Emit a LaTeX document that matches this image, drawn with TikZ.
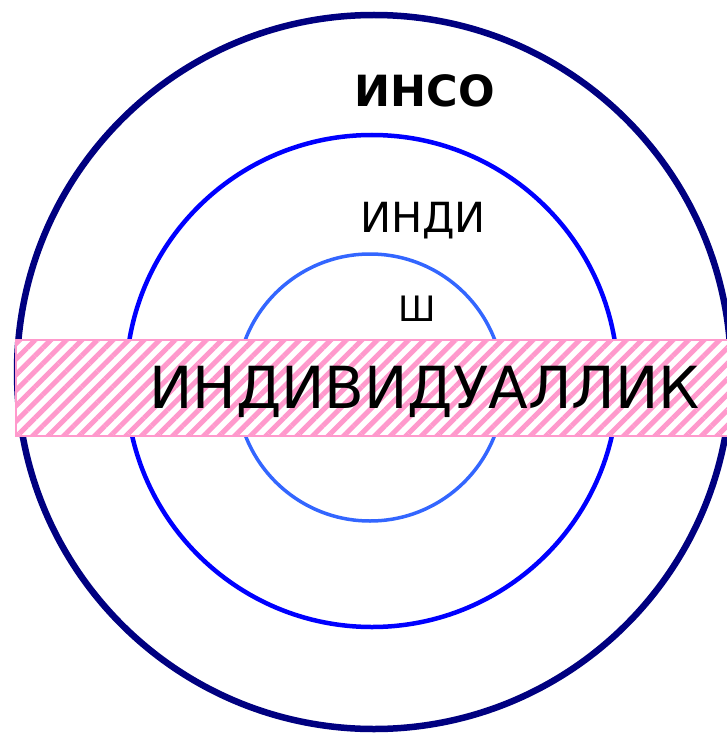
\documentclass[tikz,border=0pt]{standalone}
\usepackage{fontspec}
\setmainfont{DejaVu Sans}
\usetikzlibrary{patterns.meta}
\definecolor{navyc}{RGB}{0,0,128}
\definecolor{bluec}{RGB}{0,0,255}
\definecolor{lightbluec}{RGB}{51,102,255}
\definecolor{pinkc}{RGB}{255,153,204}
\tikzset{
  ring/.style={draw, fill=none},
  lbl/.style={anchor=base, inner sep=0pt, text=black},
}
\begin{document}
\begin{tikzpicture}[x=1pt,y=-1pt]
\useasboundingbox (0,0) rectangle (727,733);
\fill[white] (0,0) rectangle (727,733);
\draw[ring, navyc, line width=6.5pt] (374,372) circle[radius=357];
\draw[ring, bluec, line width=4.5pt] (372,381) circle[radius=246];
\draw[ring, lightbluec, line width=3.5pt] (370,387.5) circle[radius=133.5];
\node[lbl, font=\bfseries\fontsize{43}{48}\selectfont] (inso) at (424.5,107) {ИНСО};
\node[lbl, font=\fontsize{41.5}{46}\selectfont] (indi) at (423,232) {ИНДИ};
\node[lbl, font=\fontsize{35}{40}\selectfont] (sh) at (417,321) {Ш};
\fill[white] (16,340) rectangle (732,436);
\fill[pattern={Lines[angle=45,distance=11pt,line width=5pt]}, pattern color=pinkc] (16,340) rectangle (732,436);
\draw[pinkc, line width=1.5pt] (16,340) rectangle (732,436);
\node[lbl, font=\fontsize{58}{64}\selectfont] (big) at (424.5,408) {ИНДИВИДУАЛЛИК};
\end{tikzpicture}
\end{document}
